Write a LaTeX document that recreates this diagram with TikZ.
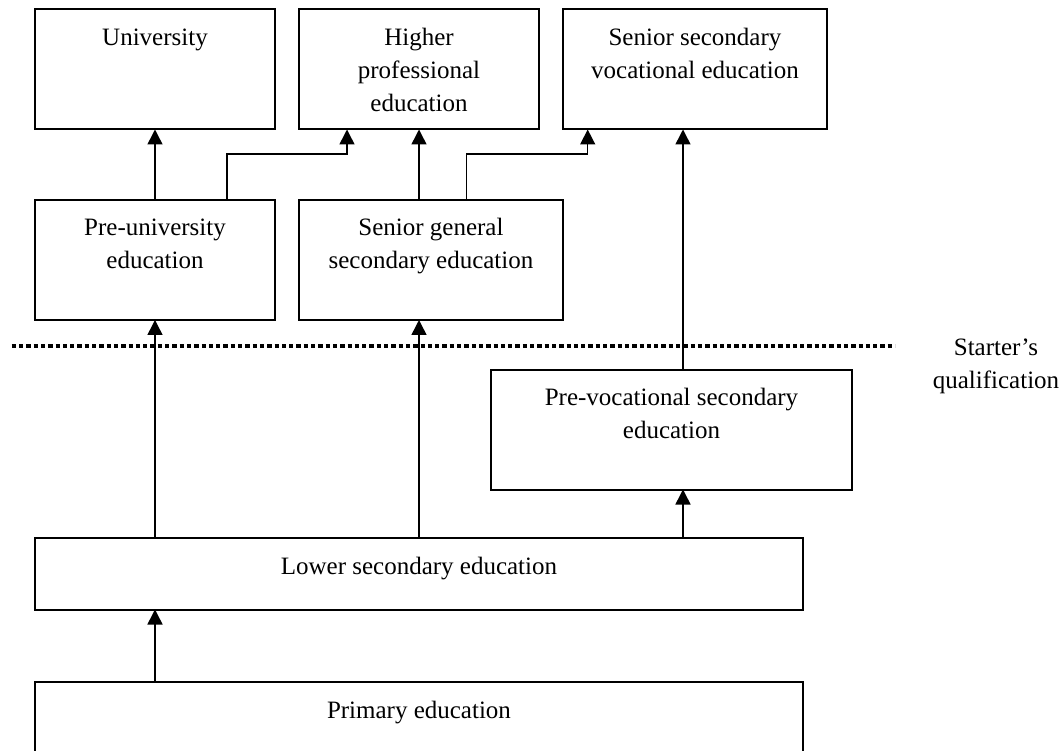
\documentclass[tikz,border=0pt]{standalone}
\usepackage{fontspec}
\setmainfont{Liberation Serif}
\usetikzlibrary{arrows.meta,calc}
\newcommand{\tb}[3]{\parbox[t][#2][t]{#1}{\centering\vspace*{12.9pt}\strut #3}}
\begin{document}
\begin{tikzpicture}[x=1pt,y=-1pt,
  every node/.style={font=\fontsize{25}{33}\selectfont},
  box/.style={draw, line width=2pt, inner sep=0pt, outer sep=0pt, anchor=north west},
  arr/.style={line width=1.5pt, -{Triangle[length=15pt,width=15pt]}},
  dots/.style={line width=3.2pt, dash pattern=on 4.3pt off 3pt}]
\clip (0,0) rectangle (1063,751);
\node[box] (uni) at (35,9.5) {\tb{240pt}{120pt}{University}};
\node[box] (hpe) at (299,9.5) {\tb{240pt}{120pt}{Higher\\professional\\education}};
\node[box] (ssv) at (563,9.5) {\tb{264pt}{120pt}{Senior secondary\\vocational education}};
\node[box] (pre) at (35,200) {\tb{240pt}{120pt}{Pre-university\\education}};
\node[box] (sge) at (299,200) {\tb{264pt}{120pt}{Senior general\\secondary education}};
\node[box] (pvs) at (491,369.5) {\tb{361pt}{120pt}{Pre-vocational secondary\\education}};
\node[box] (lse) at (35,538) {\tb{768pt}{71.5pt}{Lower secondary education}};
\node[box] (pri) at (35,682) {\tb{768pt}{100pt}{Primary education}};
\coordinate (c683) at (683,0);
\coordinate (d1) at (11.7,346);
\coordinate (d2) at (895,346);
\draw[dots] (d1) -- (d2);
\node[anchor=north, align=center, inner sep=0pt] (sq) at (996,331.9) {\strut Starter’s\\qualification};
\draw[arr] (pre.north) -- (uni.south);
\draw[arr] ([xshift=72pt]pre.north) -- ++(0,-46) -| ([xshift=-72pt]hpe.south);
\draw[arr] (sge.north -| hpe.south) -- (hpe.south);
\draw[arr] ([xshift=35.7pt]sge.north) -- ++(0,-46) -| ([xshift=-107.3pt]ssv.south);
\draw[arr] (pvs.north -| c683) -- (ssv.south -| c683);
\draw[arr] (lse.north -| pre.south) -- (pre.south);
\draw[arr] (lse.north -| hpe.south) -- (sge.south -| hpe.south);
\draw[arr] (lse.north -| c683) -- (pvs.south -| c683);
\draw[arr] (pri.north -| pre.south) -- (lse.south -| pre.south);
\end{tikzpicture}
\end{document}
